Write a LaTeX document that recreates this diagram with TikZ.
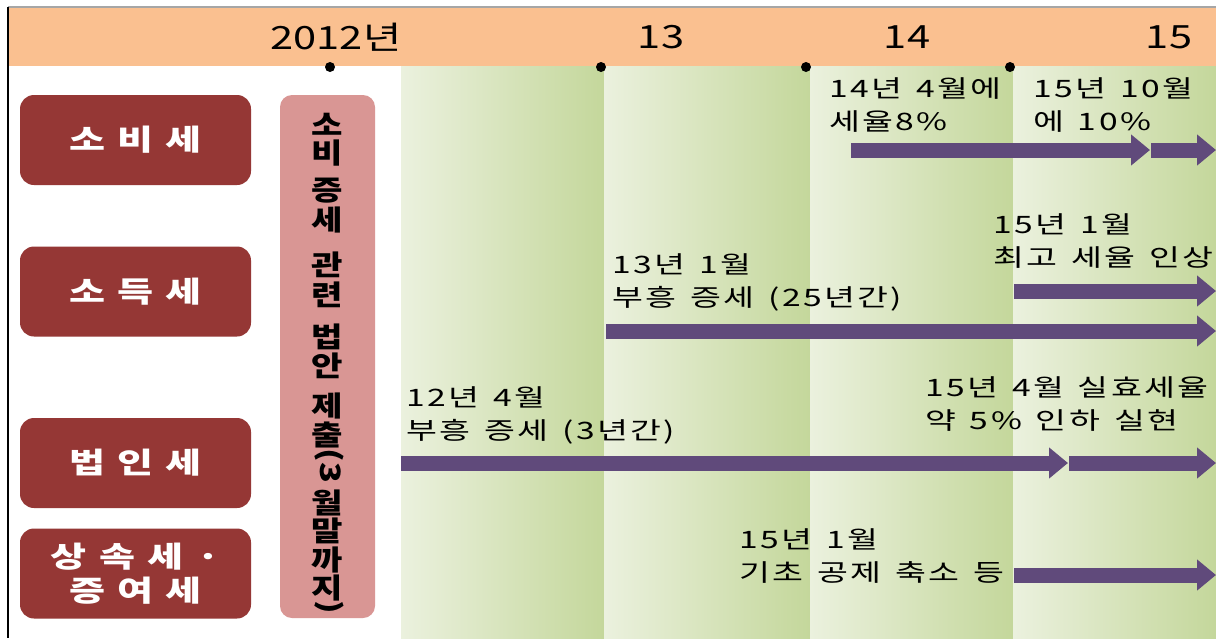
\documentclass[tikz,border=0pt]{standalone}
\usepackage{fontspec}
\usetikzlibrary{arrows.meta}
\newfontfamily\kr[FakeStretch=1.4,LetterSpace=10,WordSpace=1.4]{Noto Sans CJK KR}
\newfontfamily\kry[FakeStretch=1.3]{Noto Sans CJK KR}
\newfontfamily\krb[FakeStretch=1.35,LetterSpace=12]{Noto Sans CJK KR}
\newfontfamily\krv[FakeStretch=1.22]{Noto Sans CJK KR}
\definecolor{band}{HTML}{FAC090}
\definecolor{gl}{HTML}{EBF1DE}
\definecolor{gd}{HTML}{C4D79B}
\definecolor{taxred}{HTML}{953735}
\definecolor{pinkbox}{HTML}{D99694}
\definecolor{arr}{HTML}{604A7B}
\begin{document}
\begin{tikzpicture}[x=1pt,y=-1pt,
  col/.style={left color=gl,right color=gd,draw=none},
  taxbox/.style={fill=taxred, rounded corners=14pt, minimum width=231pt, minimum height=90pt, text=white, font=\krb\bfseries\fontsize{29}{36}\selectfont, align=center, inner sep=0},
  yr/.style={font=\kry\fontsize{32}{36}\selectfont, inner sep=0},
  lbl/.style={font=\kr\fontsize{24}{33}\selectfont, align=left, inner sep=0, anchor=north west},
  vch/.style={font=\krv\bfseries\fontsize{28}{28}\selectfont, inner sep=0, text height=18pt, text depth=2pt},
  dot/.style={circle, fill=black, minimum size=10pt, inner sep=0},
  blk/.style={draw=arr, line width=15pt, -{Triangle[width=30pt,length=19pt]}},
]
\useasboundingbox (0,0) rectangle (1216,638);
\fill[white] (0,0) rectangle (1216,638);
% frame
\draw[gray!70, line width=1.2pt] (8,7) -- (1216,7);
\draw[black, line width=2pt] (8,7) -- (8,638);
% band
\fill[band] (9,8) rectangle (1216,66);
% columns
\shade[col] (401,66) rectangle (604,638);
\shade[col] (604,66) rectangle (810,638);
\shade[col] (810,66) rectangle (1013,638);
\shade[col] (1013,66) rectangle (1216,638);
% years
\node[yr] (y12) at (336,37) {2012년};
\node[yr] (y13) at (661,37) {13};
\node[yr] (y14) at (907,37) {14};
\node[yr] (y15) at (1169,37) {15};
\node[dot] (d12) at (330,67) {};
\node[dot] (d13) at (601,67) {};
\node[dot] (d14) at (806,67) {};
\node[dot] (d15) at (1010,67) {};
% tax boxes
\node[taxbox] (sobi) at (135.5,140) {소 비 세};
\node[taxbox] (sodeuk) at (135.5,291.5) {소 득 세};
\node[taxbox] (beobin) at (135.5,463) {법 인 세};
\node[taxbox, font=\krb\bfseries\fontsize{29}{34}\selectfont] (sangsok) at (135.5,573.5) {상 속 세 ·\\증 여 세};
% bill box
\node[fill=pinkbox, rounded corners=12pt, minimum width=95pt, minimum height=523pt, inner sep=0] (bill) at (327.5,356.5) {};
\foreach \c/\yy in {소/127,비/155,증/192,세/222,관/267,련/297,법/339,안/368,제/408,출/437,월/505,말/533,까/562}
  \node[vch] at (327.5,\yy) {\c};
\node[vch, rotate=-90, text height=14pt, text depth=0pt] (p3) at (327.5,466) {(3};
\node[vch, text height=16pt] (ji) at (327.5,591) {지};
\node[vch, rotate=-90, text height=8pt, text depth=0pt] (pc) at (324.5,607) {)};
% labels
\node[lbl] (l1) at (829,77) {14년 4월에\\세율8\%};
\node[lbl] (l2) at (1033,77) {15년 10월\\에 10\%};
\node[lbl] (l3) at (993,213) {15년 1월\\최고 세율 인상};
\node[lbl] (l4) at (612,253) {13년 1월\\부흥 증세 (25년간)};
\node[lbl] (l5) at (406,386) {12년 4월\\부흥 증세 (3년간)};
\node[lbl] (l6) at (925,376) {15년 4월 실효세율\\약 5\% 인하 실현};
\node[lbl] (l7) at (739,528) {15년 1월\\기초 공제 축소 등};
% arrows
\coordinate (a1s) at (851,150); \coordinate (a1e) at (1150,150);
\coordinate (a1bs) at (1151,150); \coordinate (a1be) at (1216,150);
\coordinate (a2s) at (1014,291); \coordinate (a2e) at (1216,291);
\coordinate (a3s) at (606,331); \coordinate (a3e) at (1216,331);
\coordinate (a4s) at (401,463); \coordinate (a4e) at (1068,463);
\coordinate (a4bs) at (1069,463); \coordinate (a4be) at (1216,463);
\coordinate (a5s) at (1014,575); \coordinate (a5e) at (1216,575);
\draw[blk] (a1s) -- (a1e);
\draw[blk] (a1bs) -- (a1be);
\draw[blk] (a2s) -- (a2e);
\draw[blk] (a3s) -- (a3e);
\draw[blk] (a4s) -- (a4e);
\draw[blk] (a4bs) -- (a4be);
\draw[blk] (a5s) -- (a5e);
\end{tikzpicture}
\end{document}
